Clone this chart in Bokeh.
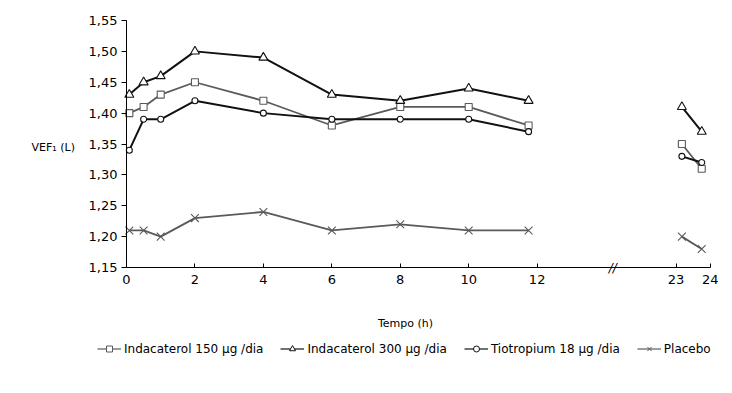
from bokeh.plotting import figure
from bokeh.models import (Range1d, FixedTicker, CustomJSTickFormatter, Legend,
                          LegendItem)
from bokeh.core.properties import value
from bokeh.embed import file_html
from bokeh.resources import INLINE

# ---- data ----
times = [0.083, 0.5, 1, 2, 4, 6, 8, 10, 11.75, 23.17, 23.75]
ind150 = [1.40, 1.41, 1.43, 1.45, 1.42, 1.38, 1.41, 1.41, 1.38, 1.35, 1.31]
ind300 = [1.43, 1.45, 1.46, 1.50, 1.49, 1.43, 1.42, 1.44, 1.42, 1.41, 1.37]
tio = [1.34, 1.39, 1.39, 1.42, 1.40, 1.39, 1.39, 1.39, 1.37, 1.33, 1.32]
placebo = [1.21, 1.21, 1.20, 1.23, 1.24, 1.21, 1.22, 1.21, 1.21, 1.20, 1.18]
x_ticks_hours = [0, 2, 4, 6, 8, 10, 12, 23, 24]
y_ticks = [1.15, 1.20, 1.25, 1.30, 1.35, 1.40, 1.45, 1.50, 1.55]
labels = ["Indacaterol 150 µg /dia", "Indacaterol 300 µg /dia",
          "Tiotropium 18 µg /dia", "Placebo"]

# broken time axis: 12 h .. 23 h compressed
SHIFT = 6.94


def pos(t):
    return t if t <= 12 else t - SHIFT


FONT = "DejaVu Sans"
W, H = 732, 393
PX_X = 34.22      # pixels per hour
X0 = 126          # pixel of t = 0
PX_Y = 617.5      # pixels per litre
Y0 = 20           # pixel of 1.55
NAN = float("nan")

x_start = -X0 / PX_X
x_end = (W - X0) / PX_X
y_top = 1.55 + Y0 / PX_Y
y_bot = 1.55 - (H - Y0) / PX_Y

p = figure(width=W, height=H, output_backend="svg", toolbar_location=None,
           x_range=Range1d(x_start, x_end), y_range=Range1d(y_bot, y_top))
p.min_border = 0
p.min_border_left = 0
p.min_border_right = 0
p.min_border_top = 0
p.min_border_bottom = 0
p.outline_line_color = None
p.grid.visible = False
p.background_fill_color = "white"
p.border_fill_color = "white"

xa = p.xaxis[0]
xa.fixed_location = 1.15
xa.bounds = (0, pos(24))
xa.ticker = FixedTicker(ticks=[pos(t) for t in x_ticks_hours])
xa.formatter = CustomJSTickFormatter(
    code="return tick > 12.5 ? String(Math.round(tick + %f)) : String(Math.round(tick));" % SHIFT)
xa.major_tick_in = 4
xa.major_tick_out = 0
xa.minor_tick_line_color = None
xa.axis_line_color = "black"
xa.major_tick_line_color = "black"
xa.major_label_text_font = FONT
xa.major_label_text_font_size = "13px"
xa.major_label_text_color = "black"
xa.major_label_standoff = 7

ya = p.yaxis[0]
ya.fixed_location = 0
ya.bounds = (1.15, 1.55)
ya.ticker = FixedTicker(ticks=y_ticks)
ya.formatter = CustomJSTickFormatter(code="return tick.toFixed(2).replace('.', ',');")
ya.major_tick_in = 0
ya.major_tick_out = 5
ya.minor_tick_line_color = None
ya.axis_line_color = "black"
ya.major_tick_line_color = "black"
ya.major_label_text_font = FONT
ya.major_label_text_font_size = "13px"
ya.major_label_text_color = "black"
ya.major_label_standoff = 4


def line_xy(vals):
    xs, ys = [], []
    for i, (t, v) in enumerate(zip(times, vals)):
        if i > 0 and times[i - 1] <= 12 < t:
            xs.append(NAN)
            ys.append(NAN)
        xs.append(pos(t))
        ys.append(v)
    return xs, ys


series = [
    (ind150, "#5a5a5a", "square", 7, 1.8, 6),
    (ind300, "#111111", "triangle", 9, 2.0, 7),
    (tio, "#111111", "circle", 6, 2.0, 6),
    (placebo, "#5a5a5a", "x", 11, 1.8, 9),
]

items = []
for (vals, col, marker, size, lw, lsize), lab in zip(series, labels):
    lx, ly = line_xy(vals)
    p.line(lx, ly, line_color=col, line_width=lw)
    p.scatter([pos(t) for t in times], vals, marker=marker, size=size,
              line_color=col, fill_color="white", line_width=1.1)
    # legend-only glyphs (a single NaN point, never drawn in the plot)
    leg_line = p.line([NAN], [NAN], line_color=col, line_width=1.2)
    leg_pts = p.scatter([NAN], [NAN], marker=marker, size=lsize,
                        line_color=col, fill_color="white", line_width=1.0)
    items.append(LegendItem(label=lab, renderers=[leg_line, leg_pts]))

legend = Legend(items=items, orientation="horizontal", location=(97, 37),
                label_text_font=FONT, label_text_font_size="12px",
                label_text_color="black", glyph_width=24, glyph_height=15,
                label_height=14, label_standoff=3, spacing=17, padding=0,
                margin=0, border_line_color=None, background_fill_alpha=0)
p.add_layout(legend, "center")

# free texts (axis titles and the axis-break mark)
p.text(x=[-2.776], y=[1.3443], text=["VEF₁ (L)"], text_font=value(FONT),
       text_font_size="11px", text_color="black", text_baseline="middle",
       text_align="left")
p.text(x=[8.153], y=[1.0593], text=["Tempo (h)"], text_font=value(FONT),
       text_font_size="11px", text_color="black", text_baseline="middle",
       text_align="center")
p.text(x=[14.21], y=[1.15], text=["//"], text_font=value(FONT),
       text_font_size="12px", text_font_style="italic", text_color="black",
       text_baseline="middle", text_align="center")

open("out.html", "w").write(file_html(p, INLINE))
